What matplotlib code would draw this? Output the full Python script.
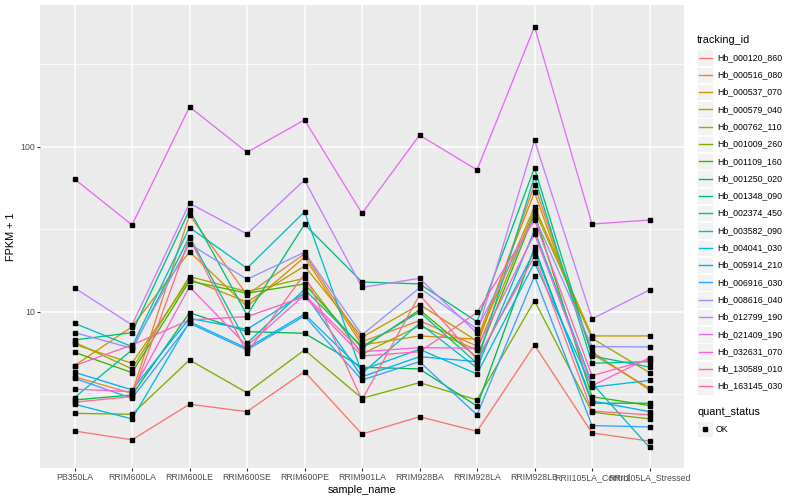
import numpy as np
import matplotlib
matplotlib.use('Agg')
import matplotlib.pyplot as plt
from matplotlib.patches import Rectangle

plt.rcParams['font.family'] = ['Liberation Sans', 'DejaVu Sans']

samples = ['PB350LA', 'RRIM600LA', 'RRIM600LE', 'RRIM600SE', 'RRIM600PE',
           'RRIM901LA', 'RRIM928BA', 'RRIM928LA', 'RRIM928LB',
           'RRII105LA_Control', 'RRII105LA_Stressed']

tracking_ids = ['Hb_000120_860', 'Hb_000516_080', 'Hb_000537_070', 'Hb_000579_040',
                'Hb_000762_110', 'Hb_001009_260', 'Hb_001109_160', 'Hb_001250_020',
                'Hb_001348_090', 'Hb_002374_450', 'Hb_003582_090', 'Hb_004041_030',
                'Hb_005914_210', 'Hb_006916_030', 'Hb_008616_040', 'Hb_012799_190',
                'Hb_021409_190', 'Hb_032631_070', 'Hb_130589_010', 'Hb_163145_030']

# FPKM + 1, one list per gene, in sample order
hb_000120_860 = [1.90, 1.68, 2.76, 2.49, 4.35, 1.82, 2.32, 1.89, 6.31, 1.85, 1.65]
hb_000516_080 = [4.05, 3.21, 38.7, 12.7, 22.5, 6.61, 8.86, 6.22, 58.9, 5.56, 3.45]
hb_000537_070 = [4.73, 8.14, 23.2, 10.8, 21.5, 6.31, 7.16, 6.84, 53.1, 5.74, 3.37]
hb_000579_040 = [6.37, 4.89, 15.8, 11.5, 19.0, 7.03, 11.1, 6.67, 43.5, 7.16, 7.16]
hb_000762_110 = [6.55, 4.52, 16.4, 13.3, 16.0, 5.56, 8.26, 5.89, 41.5, 6.93, 4.29]
hb_001009_260 = [2.43, 2.40, 5.12, 3.24, 5.89, 3.00, 3.73, 2.93, 11.7, 2.47, 2.25]
hb_001109_160 = [5.70, 4.29, 15.4, 13.0, 14.8, 6.03, 10.3, 5.31, 39.6, 3.07, 2.71]
hb_001250_020 = [2.93, 3.14, 9.90, 7.60, 7.43, 4.62, 4.52, 2.69, 24.6, 2.80, 2.80]
hb_001348_090 = [6.77, 7.50, 41.5, 9.59, 34.0, 15.2, 14.8, 8.73, 74.6, 5.41, 4.64]
hb_002374_450 = [3.03, 5.89, 28.6, 6.46, 13.7, 6.17, 10.0, 4.89, 66.2, 4.89, 5.00]
hb_003582_090 = [8.54, 6.17, 32.5, 18.4, 40.5, 4.25, 8.54, 4.58, 31.2, 3.70, 1.51]
hb_004041_030 = [2.76, 2.25, 8.73, 6.03, 9.72, 4.45, 5.94, 4.21, 19.9, 3.50, 3.85]
hb_005914_210 = [4.31, 3.37, 9.16, 7.85, 13.0, 4.05, 5.36, 5.00, 23.4, 2.89, 2.49]
hb_006916_030 = [3.96, 3.00, 8.54, 5.89, 9.46, 3.87, 5.00, 2.38, 16.5, 2.05, 2.01]
hb_008616_040 = [7.50, 6.03, 25.8, 15.8, 23.0, 7.26, 14.0, 7.88, 37.8, 6.17, 6.14]
hb_012799_190 = [14.0, 8.34, 45.6, 29.7, 63.1, 14.1, 16.0, 7.43, 110, 9.08, 13.6]
hb_021409_190 = [64.0, 33.7, 175, 92.9, 146, 39.6, 118, 72.6, 536, 34.1, 36.1]
hb_032631_070 = [3.41, 3.29, 14.2, 6.22, 12.7, 5.74, 6.08, 6.03, 29.7, 3.57, 5.28]
hb_130589_010 = [4.73, 6.31, 8.95, 9.37, 12.4, 5.41, 5.74, 9.93, 36.1, 4.11, 5.16]
hb_163145_030 = [2.84, 3.07, 28.0, 5.66, 17.0, 2.93, 12.7, 5.16, 21.8, 2.51, 2.38]

series = [hb_000120_860, hb_000516_080, hb_000537_070, hb_000579_040, hb_000762_110,
          hb_001009_260, hb_001109_160, hb_001250_020, hb_001348_090, hb_002374_450,
          hb_003582_090, hb_004041_030, hb_005914_210, hb_006916_030, hb_008616_040,
          hb_012799_190, hb_021409_190, hb_032631_070, hb_130589_010, hb_163145_030]

colors = ['#F8766D', '#EA8331', '#D89000', '#C09B00', '#A3A500', '#7CAE00', '#39B600',
          '#00BB4E', '#00BF7D', '#00C1A3', '#00BFC4', '#00BAE0', '#00B0F6', '#35A2FF',
          '#9590FF', '#C77CFF', '#E76BF3', '#FA62DB', '#FF62BC', '#FF6C91']

W, H = 800, 500
fig = plt.figure(figsize=(8, 5), dpi=100)
fig.patch.set_facecolor('white')

# panel in pixels: x 40..684, y 5..468
ax = fig.add_axes([40 / W, 1 - 468 / H, 644 / W, 463 / H])
ax.set_facecolor('#EBEBEB')
ax.set_yscale('log')
x = np.arange(len(samples))
ax.set_xlim(-0.6, len(samples) - 0.4)
ax.set_ylim(10 ** 0.0545, 10 ** 2.8606)

ax.set_xticks(x)
ax.set_xticklabels(samples)
ax.set_yticks([10, 100])
ax.set_yticklabels(['10', '100'])
ax.set_yticks([10 ** 0.5, 10 ** 1.5, 10 ** 2.5], minor=True)
ax.xaxis.set_minor_locator(matplotlib.ticker.NullLocator())
ax.yaxis.set_minor_formatter(matplotlib.ticker.NullFormatter())

ax.grid(True, which='major', color='white', linewidth=1.1)
ax.grid(True, which='minor', axis='y', color='white', linewidth=0.55)
ax.set_axisbelow(True)
for s in ax.spines.values():
    s.set_visible(False)

ax.tick_params(axis='both', which='major', length=2.2, width=0.8, color='#333333',
               labelcolor='#4D4D4D', labelsize=6.3, pad=1.5)
ax.tick_params(axis='y', which='minor', length=0)

for vals, c in zip(series, colors):
    ax.plot(x, vals, color=c, linewidth=0.95, zorder=2)
for vals in series:
    ax.plot(x, vals, linestyle='none', marker='s', markersize=2.2,
            color='black', zorder=3)

ax.set_xlabel('sample_name', fontsize=7.8, labelpad=2)
ax.set_ylabel('FPKM + 1', fontsize=7.8, labelpad=3)

# legend drawn in pixel coordinates
lax = fig.add_axes([0, 0, 1, 1])
lax.set_xlim(0, W)
lax.set_ylim(H, 0)
lax.axis('off')

lax.text(697, 40, 'tracking_id', fontsize=7.8, va='center', ha='left', color='black')
for i, (tid, c) in enumerate(zip(tracking_ids, colors)):
    yc = 57.5 + i * 17.3
    lax.add_patch(Rectangle((697, yc - 8.3), 16.3, 16.6, facecolor='#F2F2F2',
                            edgecolor='white', linewidth=0.6))
    lax.plot([698.5, 711.5], [yc, yc], color=c, linewidth=1.0)
    lax.text(717, yc, tid, fontsize=6.3, va='center', ha='left', color='black')

lax.text(697, 412, 'quant_status', fontsize=7.8, va='center', ha='left', color='black')
lax.add_patch(Rectangle((697, 429 - 8.3), 16.3, 16.6, facecolor='#F2F2F2',
                        edgecolor='white', linewidth=0.6))
lax.plot([705], [429], marker='s', markersize=2.2, color='black', linestyle='none')
lax.text(716, 429, 'OK', fontsize=6.3, va='center', ha='left', color='black')

fig.savefig('out.png', dpi=100)
